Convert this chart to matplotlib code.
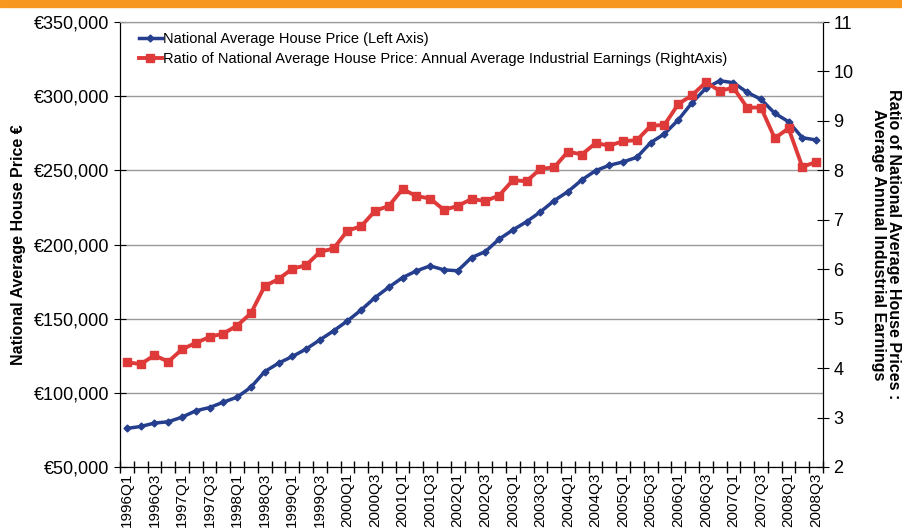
import matplotlib
matplotlib.use("Agg")
import matplotlib.pyplot as plt
from matplotlib.ticker import FuncFormatter

plt.rcParams['font.family'] = ['Liberation Sans', 'DejaVu Sans']

# quarters 1996Q1 .. 2008Q3
quarters = [f"{y}Q{q}" for y in range(1996, 2009) for q in range(1, 5)][:51]

house_price = [
    76000, 77300, 79600, 80500, 83600, 87900, 90100, 93700, 97100, 103800,
    114300, 120000, 124500, 129500, 135700, 141800, 148500, 155900, 164200, 171200,
    177700, 182200, 185600, 182900, 182300, 191200, 195200, 203600, 209800, 215400,
    222000, 229600, 235700, 243500, 249800, 253400, 255700, 258800, 268700, 274600,
    284000, 295600, 305300, 310400, 309100, 302600, 297900, 288500, 282800, 272000,
    270500,
]

price_ratio = [
    4.12, 4.08, 4.26, 4.13, 4.38, 4.51, 4.63, 4.70, 4.86, 5.11,
    5.66, 5.80, 6.01, 6.08, 6.35, 6.42, 6.78, 6.87, 7.18, 7.28,
    7.62, 7.48, 7.43, 7.20, 7.28, 7.42, 7.38, 7.49, 7.80, 7.78,
    8.03, 8.06, 8.38, 8.32, 8.55, 8.50, 8.59, 8.61, 8.90, 8.92,
    9.34, 9.52, 9.78, 9.61, 9.67, 9.27, 9.27, 8.65, 8.85, 8.07,
    8.17,
]

blue = '#253F8E'
red = '#DF3A3A'

fig = plt.figure(figsize=(9.03, 5.32), dpi=100)
# orange strip along the top
fig.patches.append(plt.Rectangle((0, 0.987), 1, 0.013, transform=fig.transFigure,
                                 color='#F7971E', zorder=0))

ax = fig.add_axes([0.1329, 0.1222, 0.7785, 0.8364])
ax2 = ax.twinx()

x = list(range(len(quarters)))
l1, = ax.plot(x, house_price, color=blue, lw=2.5, marker='D', ms=3.5,
              label='National Average House Price (Left Axis)')
l2, = ax2.plot(x, price_ratio, color=red, lw=2.8, marker='s', ms=5.5,
               label='Ratio of National Average House Price: Annual Average Industrial Earnings (RightAxis)')

ax.set_xlim(-0.5, len(quarters) - 0.5)
ax.set_ylim(50000, 350000)
ax2.set_ylim(2, 11)
ax.set_yticks(range(50000, 350001, 50000))
ax2.set_yticks(range(2, 12))
ax.yaxis.set_major_formatter(FuncFormatter(lambda v, p: f"€{v:,.0f}"))

ax.set_xticks(x[::2])
ax.set_xticklabels(quarters[::2], rotation=90, fontsize=11)
ax.set_xticks([i - 0.5 for i in range(len(quarters) + 1)], minor=True)
ax.tick_params(axis='x', which='major', length=0, pad=4)
ax.tick_params(axis='x', which='minor', length=8, direction='inout', width=1)
ax.tick_params(axis='y', labelsize=13, direction='inout', length=8)
ax2.tick_params(axis='y', labelsize=13, direction='inout', length=8)

ax.grid(axis='y', color='#999999', lw=1)
ax.set_axisbelow(True)
for a in (ax, ax2):
    a.spines['top'].set_color('#999999')

ax.set_ylabel('National Average House Price €', fontsize=11.5, fontweight='bold', labelpad=6)
ax2.set_ylabel('Ratio of National Average House Prices :\nAverage Annual Industrial Earnings',
               fontsize=11.5, fontweight='bold', rotation=270, labelpad=34, linespacing=0.95)

ax.legend([l1, l2], [l1.get_label(), l2.get_label()], loc='upper left',
          bbox_to_anchor=(0.012, 1.0), frameon=False, fontsize=10.5,
          handlelength=1.6, handletextpad=0.1, borderaxespad=0.3, labelspacing=0.4)

fig.savefig('out.png', dpi=100)
